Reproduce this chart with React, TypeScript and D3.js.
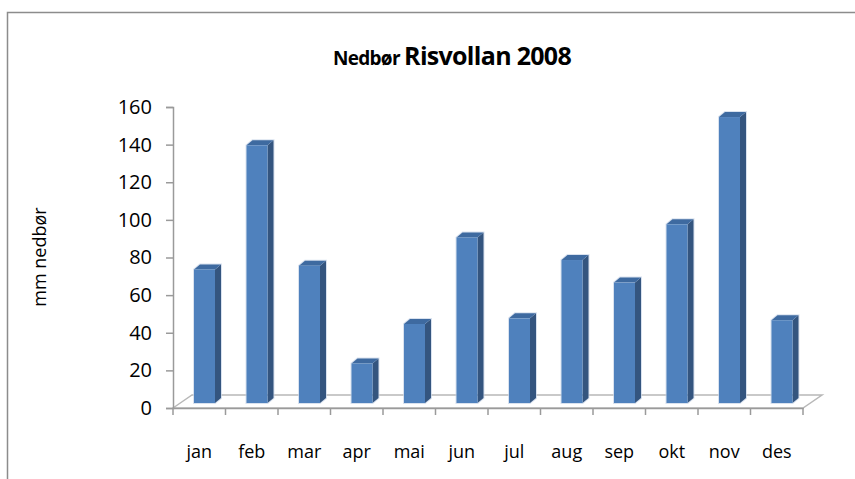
import React, { useEffect, useRef } from 'react';
import * as d3 from 'd3';

const months = ['jan', 'feb', 'mar', 'apr', 'mai', 'jun', 'jul', 'aug', 'sep', 'okt', 'nov', 'des'];
const nedbor = [71, 137, 73, 21, 42, 88, 45, 76, 64, 95, 152, 44];
const yTicks = [0, 20, 40, 60, 80, 100, 120, 140, 160];

const W = 855;
const H = 479;
const FONT = '"Open Sans", "Liberation Sans", sans-serif';

export default function App() {
  const ref = useRef<SVGSVGElement | null>(null);

  useEffect(() => {
    const svg = d3.select(ref.current);
    svg.selectAll('*').remove();

    // frame of the chart area
    svg.append('rect')
      .attr('x', 7.5).attr('y', 12.5)
      .attr('width', W + 20).attr('height', H + 20)
      .attr('fill', '#fff').attr('stroke', '#8c8c8c').attr('stroke-width', 1.5);

    // title
    const title = svg.append('text')
      .attr('x', 452).attr('y', 65)
      .attr('text-anchor', 'middle')
      .style('font-family', FONT).style('font-weight', 'bold')
      .style('letter-spacing', '-0.7px');
    title.append('tspan').style('font-size', '19px').text('Nedbør ');
    title.append('tspan').style('font-size', '25px').text('Risvollan 2008');

    const x0 = 173, x1 = 803;
    const yFront = 408; // front edge of floor
    const depth = { dx: 19, dy: -13 };

    const x = d3.scaleBand<string>().domain(months).range([x0, x1]);
    const y = d3.scaleLinear().domain([0, 160]).range([yFront, 107]);

    // floor
    const floor = d3.path();
    floor.moveTo(x0, yFront);
    floor.lineTo(x0 + depth.dx, yFront + depth.dy);
    floor.lineTo(x1 + depth.dx, yFront + depth.dy);
    floor.lineTo(x1, yFront);
    floor.closePath();
    svg.append('path').attr('d', floor.toString())
      .attr('fill', 'none').attr('stroke', '#b8b8b8').attr('stroke-width', 1.5);

    // y axis
    const yAxis = svg.append('g').attr('transform', `translate(${x0},0)`)
      .call(d3.axisLeft(y).tickValues(yTicks).tickSize(7).tickPadding(14));
    yAxis.select('.domain').attr('stroke', '#9a9a9a').attr('stroke-width', 1.5);
    yAxis.selectAll('.tick line').attr('stroke', '#9a9a9a').attr('stroke-width', 1.5);
    yAxis.selectAll('.tick text')
      .style('font-family', FONT).style('font-size', '20px').attr('fill', '#000');

    // x axis
    const xAxis = svg.append('g').attr('transform', `translate(0,${yFront})`)
      .call(d3.axisBottom(x).tickSize(0).tickPadding(37));
    xAxis.select('.domain').attr('stroke', '#9a9a9a').attr('stroke-width', 1.5);
    xAxis.selectAll('.tick text')
      .style('font-family', FONT).style('font-size', '18px').attr('fill', '#000');
    xAxis.selectAll('line.sep')
      .data(d3.range(months.length + 1))
      .enter().append('line').attr('class', 'sep')
      .attr('x1', (i) => x0 + i * x.step()).attr('x2', (i) => x0 + i * x.step())
      .attr('y1', 0).attr('y2', 7)
      .attr('stroke', '#9a9a9a').attr('stroke-width', 1.5);

    // y axis title
    svg.append('text')
      .attr('transform', 'translate(46,257) rotate(-90)')
      .attr('text-anchor', 'middle')
      .style('font-family', FONT).style('font-size', '18px')
      .text('mm nedbør');

    // 3d bars
    const base = yFront - 5;
    const faceW = 21;
    const side = { dx: 6, dy: -5 };
    const off = 21;
    const bars = svg.append('g').selectAll('g')
      .data(months.map((m, i) => ({ m, v: nedbor[i] })))
      .enter().append('g');

    // soft halo around each bar
    bars.append('path')
      .attr('d', (d) => {
        const l = (x(d.m) as number) + off;
        const t = base - (yFront - y(d.v));
        return `M${l},${t}L${l + side.dx},${t + side.dy}L${l + faceW + side.dx},${t + side.dy}L${l + faceW + side.dx},${base + side.dy}L${l + faceW},${base}L${l},${base}Z`;
      })
      .attr('fill', 'none').attr('stroke', '#c9d6e8').attr('stroke-width', 2).attr('opacity', 0.7);

    bars.append('path')
      .attr('d', (d) => {
        const l = (x(d.m) as number) + off + faceW;
        const t = base - (yFront - y(d.v));
        return `M${l},${t}L${l + side.dx},${t + side.dy}L${l + side.dx},${base + side.dy}L${l},${base}Z`;
      })
      .attr('fill', '#34557f');

    bars.append('path')
      .attr('d', (d) => {
        const l = (x(d.m) as number) + off;
        const t = base - (yFront - y(d.v));
        return `M${l},${t}L${l + side.dx},${t + side.dy}L${l + faceW + side.dx},${t + side.dy}L${l + faceW},${t}Z`;
      })
      .attr('fill', '#3e6aa0');

    bars.append('rect')
      .attr('x', (d) => (x(d.m) as number) + off)
      .attr('y', (d) => base - (yFront - y(d.v)))
      .attr('width', faceW)
      .attr('height', (d) => yFront - y(d.v))
      .attr('fill', '#4f81bd');
  }, []);

  return (
    <svg ref={ref} width={W} height={H}
      style={{ position: 'absolute', left: 0, top: 0, background: '#fff' }} />
  );
}
